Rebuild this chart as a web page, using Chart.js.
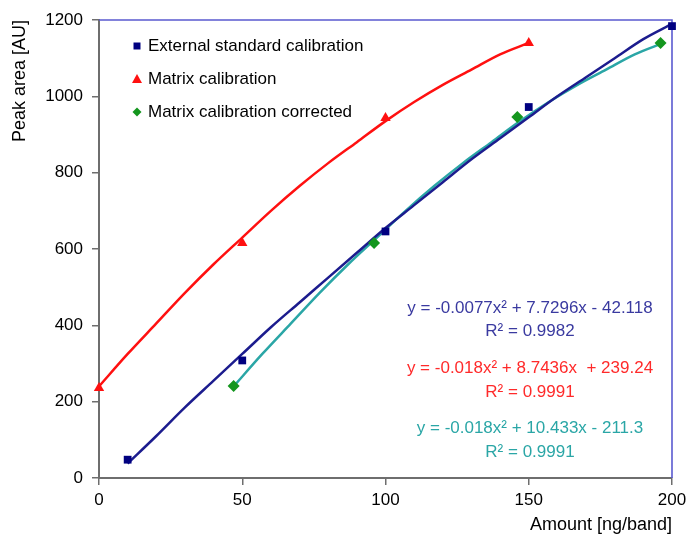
<!DOCTYPE html>
<html><head><meta charset="utf-8">
<script src="https://cdn.jsdelivr.net/npm/chart.js@4/dist/chart.umd.min.js"></script>
<style>html,body{margin:0;padding:0;background:#fff}</style>
</head><body>
<canvas id="c" width="687" height="546"></canvas>
<script>
// ---- data ----
const xTickValues = [0, 50, 100, 150, 200];
const yTickValues = [0, 200, 400, 600, 800, 1000, 1200];
const seriesNames = ['External standard calibration', 'Matrix calibration', 'Matrix calibration corrected'];

const extX = [10, 50, 100, 150, 200];
const extY = [48, 308, 646, 972, 1184];
const matX = [0, 50, 100, 150];
const matY = [236, 616, 943, 1140];
const corX = [47, 96, 146, 196];
const corY = [241, 616, 946, 1140];

// trend curves
const extTrendX = [10, 20, 30, 40, 50, 60, 70, 80, 90, 100, 110, 120, 130, 140, 150, 160, 170, 180, 190, 200];
const extTrendY = [38, 110, 185, 255, 325, 395, 460, 525, 590, 655, 715, 775, 835, 890, 945, 1000, 1050, 1100, 1150, 1190];
const matTrendX = [0, 10, 20, 30, 40, 50, 60, 70, 80, 90, 100, 110, 120, 130, 140, 150];
const matTrendY = [240, 325, 405, 485, 560, 630, 700, 765, 825, 880, 935, 985, 1030, 1070, 1110, 1140];
const corTrendX = [47, 57, 67, 77, 87, 97, 107, 117, 127, 137, 147, 157, 167, 177, 187, 197];
const corTrendY = [240, 325, 405, 485, 560, 630, 700, 765, 825, 880, 935, 985, 1030, 1070, 1110, 1140];

const equationLines = [
  'y = -0.0077x\u00B2 + 7.7296x - 42.118', 'R\u00B2 = 0.9982',
  'y = -0.018x\u00B2 + 8.7436x  + 239.24', 'R\u00B2 = 0.9991',
  'y = -0.018x\u00B2 + 10.433x - 211.3', 'R\u00B2 = 0.9991'
];
const xTitle = 'Amount [ng/band]';
const yTitle = 'Peak area [AU]';

// ---- styles ----
const FONT = '"Liberation Sans", Arial, sans-serif';
const cNavy = '#000080', cNavyLine = '#1c1c8e', cRed = '#ff1010', cGreen = '#14961e', cTeal = '#2aa6a6';
const eqColors = ['#3a3aa0', '#3a3aa0', '#ff2a2a', '#ff2a2a', '#2aa6a6', '#2aa6a6'];
const eqY = [308, 331, 368, 392, 428, 452];

const pts = (xs, ys) => xs.map((x, i) => ({x, y: ys[i]}));

const markerDefs = [
  {style: 'rect', color: cNavy},
  {style: 'triangle', color: cRed},
  {style: 'rectRot', color: cGreen}
];

const datasets = [
  {label: seriesNames[0], data: pts(extX, extY), showLine: false, clip: false, pointStyle: 'rect', pointRadius: 5.5, backgroundColor: cNavy, borderColor: cNavy, borderWidth: 0},
  {label: seriesNames[1], data: pts(matX, matY), showLine: false, clip: false, pointStyle: 'triangle', pointRadius: 6, backgroundColor: cRed, borderColor: cRed, borderWidth: 0},
  {label: seriesNames[2], data: pts(corX, corY), showLine: false, clip: false, pointStyle: 'rectRot', pointRadius: 6, backgroundColor: cGreen, borderColor: cGreen, borderWidth: 0},
  {label: 'trend1', data: pts(extTrendX, extTrendY), showLine: true, pointRadius: 0, borderColor: cNavyLine, borderWidth: 2.5, cubicInterpolationMode: 'monotone', fill: false},
  {label: 'trend2', data: pts(matTrendX, matTrendY), showLine: true, pointRadius: 0, borderColor: cRed, borderWidth: 2.5, cubicInterpolationMode: 'monotone', fill: false},
  {label: 'trend3', data: pts(corTrendX, corTrendY), showLine: true, pointRadius: 0, borderColor: cTeal, borderWidth: 2.5, cubicInterpolationMode: 'monotone', fill: false}
];

const framePlugin = {
  id: 'frame',
  beforeDatasetsDraw(chart) {
    const {ctx, chartArea: a} = chart;
    ctx.save();
    ctx.strokeStyle = '#5a5ad0';
    ctx.lineWidth = 1.6;
    ctx.beginPath();
    ctx.moveTo(a.left, a.top);
    ctx.lineTo(a.right, a.top);
    ctx.lineTo(a.right, a.bottom);
    ctx.stroke();
    ctx.restore();
  },
  afterDraw(chart) {
    const {ctx} = chart;
    ctx.save();
    // legend
    ctx.font = '17px ' + FONT;
    ctx.textBaseline = 'middle';
    ctx.textAlign = 'left';
    const rows = [46, 79, 112];
    markerDefs.forEach((m, i) => {
      const y = rows[i], x = 137;
      ctx.fillStyle = m.color;
      ctx.beginPath();
      if (m.style === 'rect') {
        ctx.rect(x - 3.5, y - 3.5, 7, 7);
      } else if (m.style === 'triangle') {
        ctx.moveTo(x, y - 5); ctx.lineTo(x + 5, y + 4); ctx.lineTo(x - 5, y + 4); ctx.closePath();
      } else {
        ctx.moveTo(x, y - 4.5); ctx.lineTo(x + 4.5, y); ctx.lineTo(x, y + 4.5); ctx.lineTo(x - 4.5, y); ctx.closePath();
      }
      ctx.fill();
      ctx.fillStyle = '#000';
      ctx.fillText(seriesNames[i], 148, y);
    });
    // equations
    ctx.font = '17px ' + FONT;
    ctx.textAlign = 'center';
    equationLines.forEach((t, i) => {
      ctx.fillStyle = eqColors[i];
      ctx.fillText(t, 530, eqY[i]);
    });
    ctx.restore();
  }
};

new Chart(document.getElementById('c'), {
  type: 'scatter',
  data: {datasets},
  options: {
    responsive: false,
    animation: false,
    devicePixelRatio: 1,
    layout: {padding: {top: 20, right: 15, left: 0, bottom: 0}},
    plugins: {legend: {display: false}, tooltip: {enabled: false}},
    scales: {
      x: {
        type: 'linear', min: 0, max: 200,
        afterBuildTicks: s => { s.ticks = xTickValues.map(v => ({value: v})); },
        afterFit: s => { s.height = 68; s.paddingLeft = 0; s.paddingRight = 0; },
        grid: {display: true, drawOnChartArea: false, drawTicks: true, tickLength: 7, color: '#6e6e6e', lineWidth: 1.5},
        border: {display: true, color: '#6e6e6e', width: 2},
        ticks: {color: '#000', font: {family: FONT, size: 17}, padding: 5, maxRotation: 0, callback: v => String(v)},
        title: {display: true, text: xTitle, align: 'end', color: '#000', font: {family: FONT, size: 18}, padding: {top: 0, bottom: 10}}
      },
      y: {
        type: 'linear', min: 0, max: 1200,
        afterBuildTicks: s => { s.ticks = yTickValues.map(v => ({value: v})); },
        afterFit: s => { s.width = 99; s.paddingTop = 0; s.paddingBottom = 0; },
        grid: {display: true, drawOnChartArea: false, drawTicks: true, tickLength: 7, color: '#6e6e6e', lineWidth: 1.5},
        border: {display: true, color: '#6e6e6e', width: 2},
        ticks: {color: '#000', font: {family: FONT, size: 17}, padding: 9, callback: v => String(v)},
        title: {display: true, text: yTitle, align: 'end', color: '#000', font: {family: FONT, size: 18}, padding: {top: 9, bottom: 0}}
      }
    }
  },
  plugins: [framePlugin]
});
</script>
</body></html>
